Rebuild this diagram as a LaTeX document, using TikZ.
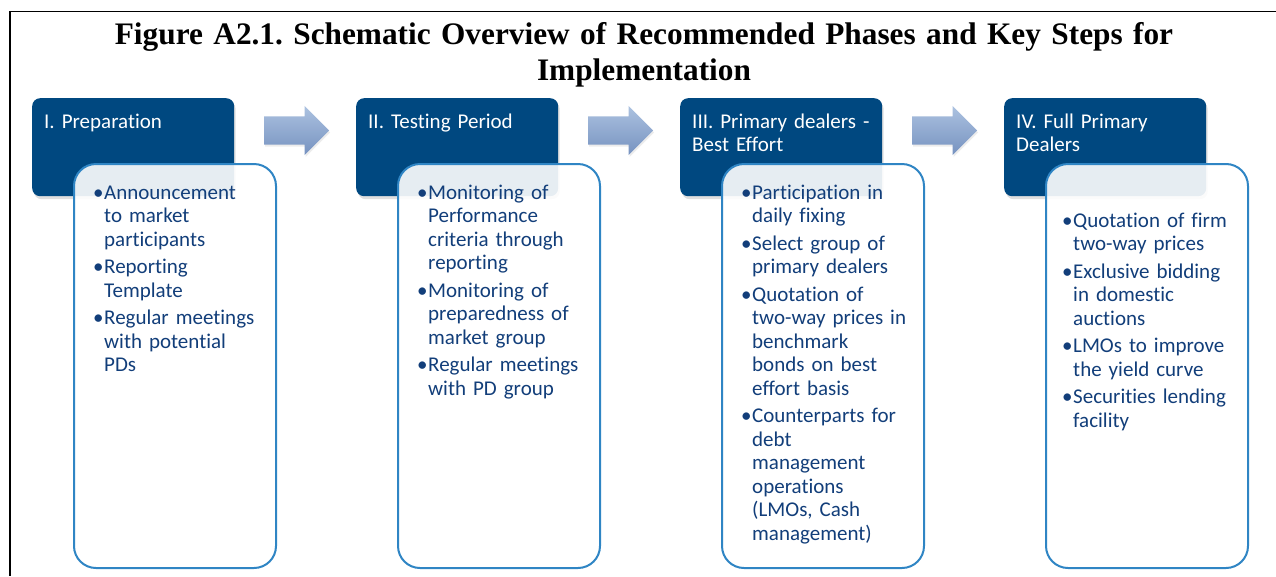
\documentclass[tikz,border=0pt]{standalone}
\usepackage{fontspec}
\setmainfont{Liberation Serif}
\newfontfamily\boxfont[Ligatures=NoCommon]{Carlito}
\usetikzlibrary{shapes.arrows,shadows}

\definecolor{phaseblue}{RGB}{0,72,128}
\definecolor{lineblue}{RGB}{47,133,196}
\definecolor{itemblue}{RGB}{18,62,122}
\definecolor{arrowtop}{RGB}{172,194,224}
\definecolor{arrowbot}{RGB}{118,146,192}

% one bullet item, lines broken by hand
\newcommand{\itm}[1]{{\let\\\newline\hangindent=9pt\hangafter=1\noindent\makebox[9pt][l]{\hspace*{-2pt}\textbullet}#1\par}\vskip4pt}

\begin{document}
\begin{tikzpicture}[x=1pt,y=-1pt,
    phase/.style={fill=phaseblue,rounded corners=8pt,minimum width=202pt,minimum height=98pt,
      anchor=north west,inner sep=0pt,
      drop shadow={shadow xshift=1.5pt,shadow yshift=-3pt,opacity=0.25}},
    phasetext/.style={anchor=base west,text=white,text width=185pt,inner sep=0pt,
      font=\boxfont\fontsize{21}{23}\selectfont},
    stepbox/.style={draw=lineblue,line width=2pt,fill=white,fill opacity=0.9,rounded corners=22pt,
      minimum width=202pt,minimum height=404pt,anchor=north west,inner sep=0pt},
    steptext/.style={anchor=base west,text=itemblue,text width=175pt,inner sep=0pt,
      font=\boxfont\fontsize{21}{23.5}\selectfont},
    blockarrow/.style={single arrow,minimum height=65pt,inner xsep=0pt,inner ysep=14pt,
      single arrow head extend=10.5pt,top color=arrowtop,bottom color=arrowbot,anchor=tail,
      drop shadow={shadow xshift=1pt,shadow yshift=-2pt,opacity=0.15}}]
  \useasboundingbox (0,0) rectangle (1276,576);
  \draw[line width=1.2pt] (1276,11.5) -- (10,11.5) -- (10,576);

  \node[anchor=base,text width=1200pt,align=center,inner sep=0pt,
    font=\bfseries\fontsize{31.3}{36}\selectfont\frenchspacing] (title) at (644,44)
    {Figure A2.1. Schematic Overview of Recommended Phases and Key Steps for\\Implementation};

  % phase headers
  \node[phase] (hd1) at (32,98) {};
  \node[phase] (hd2) at (356,98) {};
  \node[phase] (hd3) at (680,98) {};
  \node[phase] (hd4) at (1004,98) {};
  \node[phasetext] (ph1) at ([xshift=12pt,yshift=-30pt]hd1.north west) {I. Preparation};
  \node[phasetext] (ph2) at ([xshift=12pt,yshift=-30pt]hd2.north west) {II. Testing Period};
  \node[phasetext] (ph3) at ([xshift=12pt,yshift=-30pt]hd3.north west) {III. Primary dealers -\\Best Effort};
  \node[phasetext] (ph4) at ([xshift=12pt,yshift=-30pt]hd4.north west) {IV. Full Primary\\Dealers};

  % arrows between phases
  \node[blockarrow] (ar1) at (264,130.5) {};
  \node[blockarrow] (ar2) at (588,130.5) {};
  \node[blockarrow] (ar3) at (912,130.5) {};

  % key steps
  \node[stepbox] (st1) at (73,163) {};
  \node[stepbox] (st2) at (397,163) {};
  \node[stepbox] (st3) at (721,163) {};
  \node[stepbox] (st4) at (1045,163) {};

  \node[steptext] (ls1) at ([xshift=22pt,yshift=-36pt]st1.north west) {%
    \itm{Announcement\\to market\\participants}
    \itm{Reporting\\Template}
    \itm{Regular meetings\\with potential\\PDs}};
  \node[steptext] (ls2) at ([xshift=22pt,yshift=-36pt]st2.north west) {%
    \itm{Monitoring of\\Performance\\criteria through\\reporting}
    \itm{Monitoring of\\preparedness of\\market group}
    \itm{Regular meetings\\with PD group}};
  \node[steptext] (ls3) at ([xshift=22pt,yshift=-36pt]st3.north west) {%
    \itm{Participation in\\daily fixing}
    \itm{Select group of\\primary dealers}
    \itm{Quotation of\\two-way prices in\\benchmark\\bonds on best\\effort basis}
    \itm{Counterparts for\\debt\\management\\operations\\(LMOs, Cash\\management)}};
  \node[steptext] (ls4) at ([xshift=19pt,yshift=-64pt]st4.north west) {%
    \itm{Quotation of firm\\two-way prices}
    \itm{Exclusive bidding\\in domestic\\auctions}
    \itm{LMOs to improve\\the yield curve}
    \itm{Securities lending\\facility}};
\end{tikzpicture}
\end{document}
